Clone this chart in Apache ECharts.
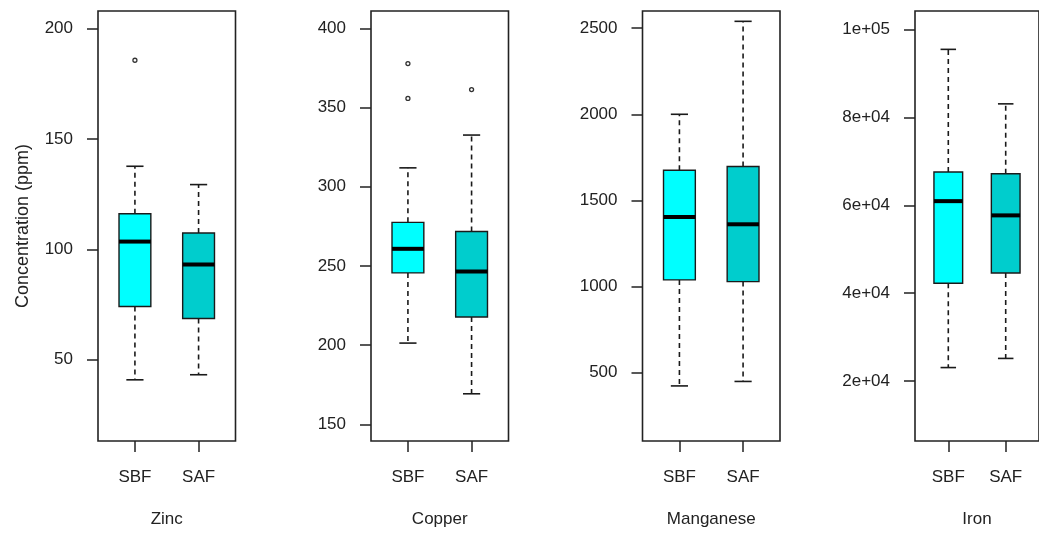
<!DOCTYPE html>
<html>
<head>
<meta charset="utf-8">
<script src="https://cdn.jsdelivr.net/npm/echarts@6/dist/echarts.min.js"></script>
<style>
  html, body { margin: 0; padding: 0; background: #ffffff; }
  #chart { width: 1039px; height: 533px; }
</style>
</head>
<body>
<div id="chart"></div>
<script>
// ---------------- data ----------------
const categories = ['SBF', 'SAF'];
const panelNames = ['Zinc', 'Copper', 'Manganese', 'Iron'];
const yTitle = 'Concentration (ppm)';

// [lower whisker, Q1, median, Q3, upper whisker]
const zincSBF = [40.9, 74.1, 103.5, 116.1, 137.6];
const zincSAF = [43.2, 68.7, 93.1, 107.4, 129.3];
const zincOutSBF = [185.6];
const zincOutSAF = [];

const copperSBF = [201.3, 245.6, 260.8, 277.5, 311.9];
const copperSAF = [169.3, 217.8, 246.5, 271.7, 332.6];
const copperOutSBF = [377.7, 355.7];
const copperOutSAF = [361.3];

const manganeseSBF = [422, 1038, 1404, 1675, 2000];
const manganeseSAF = [448, 1028, 1361, 1697, 2540];
const manganeseOutSBF = [];
const manganeseOutSAF = [];

const ironSBF = [23056, 42269, 60949, 67593, 95509];
const ironSAF = [25139, 44583, 57708, 67199, 83102];
const ironOutSBF = [];
const ironOutSAF = [];

const zincTicks = [50, 100, 150, 200];
const copperTicks = [150, 200, 250, 300, 350, 400];
const manganeseTicks = [500, 1000, 1500, 2000, 2500];
const ironTicks = [20000, 40000, 60000, 80000, 100000];
const ironTickLabels = ['2e+04', '4e+04', '6e+04', '8e+04', '1e+05'];

// y-axis extents (min, max)
const zincRange = [13.2, 207.9];
const copperRange = [139.5, 410.9];
const manganeseRange = [102, 2600];
const ironRange = [6337, 104244];

// ---------------- style / layout ----------------
const FONT = '"Liberation Sans", Arial, sans-serif';
const TEXT = '#222';
const boxColors = ['#00FFFF', '#00CDCD'];
const gridLefts = [98, 371, 642.5, 915];
const GRID_W = 137.5, GRID_TOP = 11, GRID_H = 431.5;
const BOX_WEX = 0.5, STAPLE_WEX = 0.27;

const panels = [
  { name: panelNames[0], groups: [zincSBF, zincSAF], outs: [zincOutSBF, zincOutSAF], ticks: zincTicks, labels: null, range: zincRange },
  { name: panelNames[1], groups: [copperSBF, copperSAF], outs: [copperOutSBF, copperOutSAF], ticks: copperTicks, labels: null, range: copperRange },
  { name: panelNames[2], groups: [manganeseSBF, manganeseSAF], outs: [manganeseOutSBF, manganeseOutSAF], ticks: manganeseTicks, labels: null, range: manganeseRange },
  { name: panelNames[3], groups: [ironSBF, ironSAF], outs: [ironOutSBF, ironOutSAF], ticks: ironTicks, labels: ironTickLabels, range: ironRange }
];

function renderBox(params, api) {
  const x = api.value(0);
  const lo = api.coord([x, api.value(1)]);
  const q1 = api.coord([x, api.value(2)]);
  const med = api.coord([x, api.value(3)]);
  const q3 = api.coord([x, api.value(4)]);
  const hi = api.coord([x, api.value(5)]);
  const bw = api.size([BOX_WEX, 0])[0];
  const cw = api.size([STAPLE_WEX, 0])[0];
  const cx = lo[0];
  const dashStyle = { stroke: '#1a1a1a', lineWidth: 1.6, lineDash: [5, 4] };
  const capStyle = { stroke: '#1a1a1a', lineWidth: 1.6 };
  return {
    type: 'group',
    children: [
      { type: 'line', shape: { x1: cx, y1: q3[1], x2: cx, y2: hi[1] }, style: dashStyle },
      { type: 'line', shape: { x1: cx, y1: q1[1], x2: cx, y2: lo[1] }, style: dashStyle },
      { type: 'line', shape: { x1: cx - cw / 2, y1: hi[1], x2: cx + cw / 2, y2: hi[1] }, style: capStyle },
      { type: 'line', shape: { x1: cx - cw / 2, y1: lo[1], x2: cx + cw / 2, y2: lo[1] }, style: capStyle },
      { type: 'rect', shape: { x: cx - bw / 2, y: q3[1], width: bw, height: q1[1] - q3[1] },
        style: { fill: boxColors[params.dataIndex], stroke: '#1a1a1a', lineWidth: 1.4 } },
      { type: 'line', shape: { x1: cx - bw / 2, y1: med[1], x2: cx + bw / 2, y2: med[1] },
        style: { stroke: '#000', lineWidth: 4 } }
    ]
  };
}

const grids = [], xAxes = [], yAxes = [], series = [];
panels.forEach((p, i) => {
  grids.push({
    left: gridLefts[i], top: GRID_TOP, width: GRID_W, height: GRID_H,
    show: true, borderColor: '#222', borderWidth: 1.6, backgroundColor: 'transparent'
  });
  xAxes.push({
    gridIndex: i, type: 'value', min: 0.42, max: 2.58,
    name: p.name, nameLocation: 'middle', nameGap: 70,
    nameTextStyle: { fontFamily: FONT, fontSize: 17, color: TEXT },
    axisLine: { show: false },
    splitLine: { show: false },
    axisTick: { show: true, customValues: [1, 2], length: 11, lineStyle: { color: '#222', width: 1.5 } },
    axisLabel: {
      customValues: [1, 2], margin: 28, fontFamily: FONT, fontSize: 17, color: TEXT,
      formatter: v => categories[Math.round(v) - 1]
    }
  });
  yAxes.push({
    gridIndex: i, type: 'value', min: p.range[0], max: p.range[1],
    name: i === 0 ? yTitle : '', nameLocation: 'middle', nameGap: 66,
    nameTextStyle: { fontFamily: FONT, fontSize: 18, color: TEXT },
    axisLine: { show: false },
    splitLine: { show: false },
    axisTick: { show: true, customValues: p.ticks, length: 11, lineStyle: { color: '#222', width: 1.5 } },
    axisLabel: {
      customValues: p.ticks, margin: 25, fontFamily: FONT, fontSize: 17, color: TEXT,
      formatter: v => {
        if (!p.labels) return String(v);
        const k = p.ticks.indexOf(v);
        return k >= 0 ? p.labels[k] : '';
      }
    }
  });
  series.push({
    type: 'custom', xAxisIndex: i, yAxisIndex: i,
    renderItem: renderBox,
    encode: { x: 0, y: [1, 2, 3, 4, 5] },
    data: p.groups.map((g, j) => [j + 1].concat(g)),
    silent: true
  });
  const outData = [];
  p.outs.forEach((arr, j) => arr.forEach(v => outData.push([j + 1, v])));
  series.push({
    type: 'scatter', xAxisIndex: i, yAxisIndex: i,
    symbol: 'circle', symbolSize: 4,
    itemStyle: { color: '#ffffff', borderColor: '#333333', borderWidth: 1.3, opacity: 1 },
    data: outData, silent: true, z: 5
  });
});

const chart = echarts.init(document.getElementById('chart'), null, { renderer: 'canvas' });
chart.setOption({
  animation: false,
  backgroundColor: '#ffffff',
  grid: grids,
  xAxis: xAxes,
  yAxis: yAxes,
  series: series
});
</script>
</body>
</html>
